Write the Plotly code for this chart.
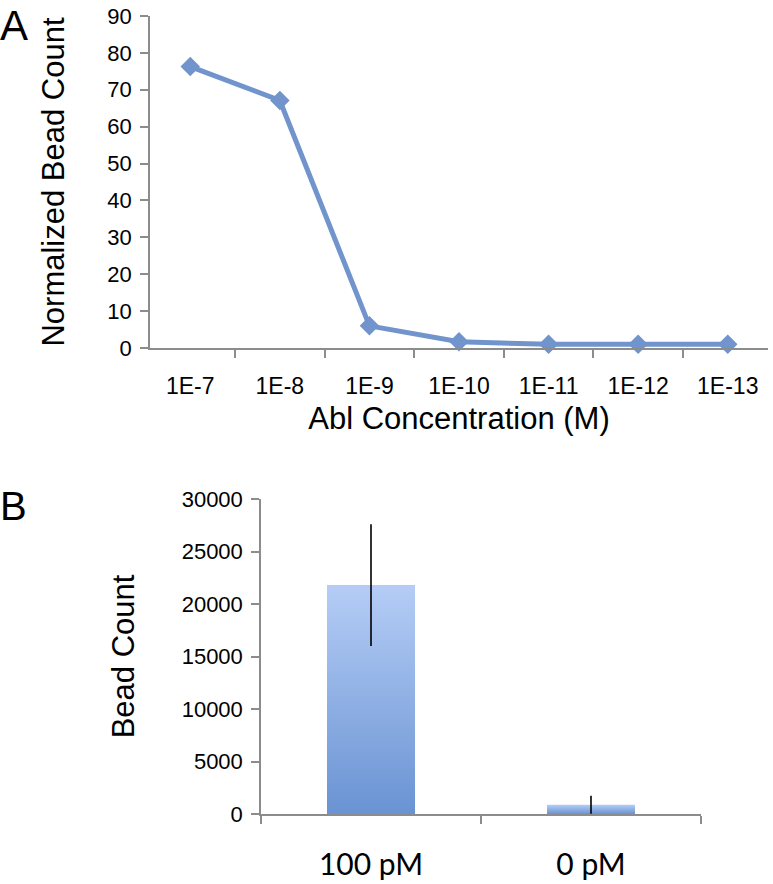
import plotly.graph_objects as go

# ---- Panel A data ----
conc_labels = ["1E-7", "1E-8", "1E-9", "1E-10", "1E-11", "1E-12", "1E-13"]
norm_counts = [76.3, 67.1, 6.0, 1.7, 1.0, 1.0, 1.0]
a_yticks = [0, 10, 20, 30, 40, 50, 60, 70, 80, 90]

# ---- Panel B data ----
b_labels = ["100 pM", "0 pM"]
bead_counts = [21800, 880]
bead_err = [5800, 850]
b_yticks = [0, 5000, 10000, 15000, 20000, 25000, 30000]
bar_width = 0.4

W, H = 773, 884
def px_x(a, b):
    return [a / W, b / W]
def px_y(top, bottom):
    return [1 - bottom / H, 1 - top / H]

LINE = "#7094CB"
AXIS = "#8c8c8c"
SANS = "Liberation Sans, Arial, sans-serif"

fig = go.Figure()

# Panel A line
fig.add_trace(go.Scatter(
    x=conc_labels, y=norm_counts, mode="lines+markers",
    line=dict(color=LINE, width=5),
    marker=dict(symbol="diamond", size=15, color=LINE),
    xaxis="x", yaxis="y", showlegend=False, cliponaxis=False))

# Panel B bars as gradient-filled polygons
for i, v in enumerate(bead_counts):
    x0, x1 = i - bar_width / 2, i + bar_width / 2
    fig.add_trace(go.Scatter(
        x=[x0, x1, x1, x0, x0], y=[0, 0, v, v, 0],
        mode="lines", fill="toself", line=dict(width=0),
        fillgradient=dict(type="vertical",
                          colorscale=[[0, "#6A93D3"], [1, "#B5CDF6"]]),
        xaxis="x2", yaxis="y2", showlegend=False, hoverinfo="skip"))

# Error bars
fig.add_trace(go.Scatter(
    x=list(range(len(bead_counts))), y=bead_counts, mode="markers",
    marker=dict(size=1, color="rgba(0,0,0,0)"),
    error_y=dict(type="data", array=bead_err, symmetric=True,
                 color="black", thickness=1.6, width=0),
    xaxis="x2", yaxis="y2", showlegend=False))

fig.update_layout(
    width=W, height=H,
    margin=dict(l=0, r=0, t=0, b=0, autoexpand=False),
    paper_bgcolor="white", plot_bgcolor="white",
    xaxis=dict(
        domain=px_x(150, 768), anchor="y", automargin=False,
        type="category", tickson="boundaries",
        showline=True, linecolor=AXIS, linewidth=1.5,
        ticks="outside", ticklen=8, tickcolor=AXIS, tickwidth=1.5,
        tickfont=dict(family=SANS, size=23, color="black"),
        ticklabelstandoff=17,
        showgrid=False, zeroline=False,
        title=dict(text="Abl Concentration (M)",
                   font=dict(family=SANS, size=31, color="black"),
                   standoff=9),
    ),
    yaxis=dict(
        domain=px_y(16, 348), anchor="x", automargin=False,
        range=[0, 90], tickvals=a_yticks,
        showline=True, linecolor=AXIS, linewidth=1.5,
        ticks="outside", ticklen=8, tickcolor=AXIS, tickwidth=1.5,
        tickfont=dict(family=SANS, size=22, color="black"),
        ticklabelstandoff=4,
        showgrid=False, zeroline=False,
        title=dict(text="Normalized Bead Count",
                   font=dict(family=SANS, size=31, color="black"),
                   standoff=34),
    ),
    xaxis2=dict(
        domain=px_x(261, 701), anchor="y2", automargin=False,
        range=[-0.5, 1.5],
        tickvals=[0, 1], ticktext=b_labels, ticks="",
        minor=dict(tickvals=[-0.5, 0.5, 1.5], ticks="outside", ticklen=8,
                   tickcolor=AXIS, tickwidth=1.5, showgrid=False),
        showline=True, linecolor=AXIS, linewidth=1.5,
        tickfont=dict(family="Lato, Open Sans, sans-serif", size=30, color="black"),
        ticklabelstandoff=23,
        showgrid=False, zeroline=False,
    ),
    yaxis2=dict(
        domain=px_y(499, 814), anchor="x2", automargin=False,
        range=[0, 30000], tickvals=b_yticks, tickformat="d",
        showline=True, linecolor=AXIS, linewidth=1.5,
        ticks="outside", ticklen=8, tickcolor=AXIS, tickwidth=1.5,
        tickfont=dict(family=SANS, size=22, color="black"),
        ticklabelstandoff=4,
        showgrid=False, zeroline=False,
        title=dict(text="Bead Count",
                   font=dict(family=SANS, size=31, color="black"),
                   standoff=38),
    ),
    annotations=[
        dict(text="A", x=-2 / W, y=1 - 0 / H, xref="paper", yref="paper",
             xanchor="left", yanchor="top", showarrow=False,
             font=dict(family=SANS, size=42, color="black")),
        dict(text="B", x=-2 / W, y=1 - 482 / H, xref="paper", yref="paper",
             xanchor="left", yanchor="top", showarrow=False,
             font=dict(family=SANS, size=40, color="black")),
    ],
)

fig.write_html("out.html", config={"displayModeBar": False},
               post_script="document.body.style.margin='0';")
